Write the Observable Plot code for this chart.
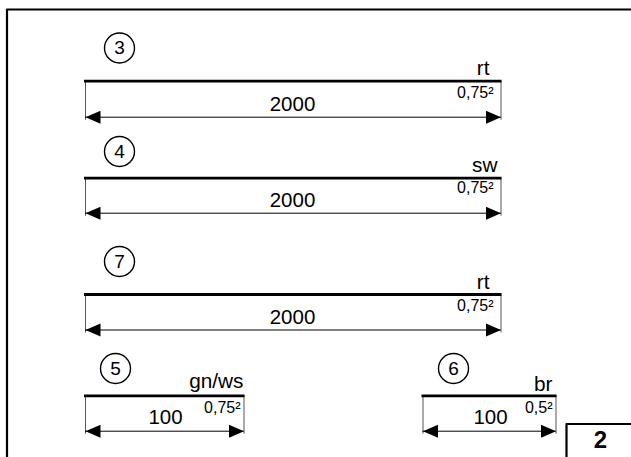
<!DOCTYPE html>
<html><head><meta charset="utf-8">
<script src="https://cdn.jsdelivr.net/npm/d3@7"></script>
<script src="https://cdn.jsdelivr.net/npm/@observablehq/plot@0.6"></script>
<style>html,body{margin:0;padding:0;background:#fff}svg{display:block}</style>
</head><body><div id="c"></div>
<script>
// Wire labels in the drawing
const circleNumbers = ["3","4","7","5","6"];
const lengths = ["2000","2000","2000","100","100"];
const colours = ["rt","sw","rt","gn/ws","br"];
const sections = ["0,75²","0,75²","0,75²","0,75²","0,5²"];
// Layout in drawing units
const x1s = [85,85,85,85,422.5];
const x2s = [500.5,500.5,500.5,243.5,555.5];
const wireY = [80.7,177.7,294,395.3,395.3];
const dimY = [116.7,212.7,329.5,430.7,430.7];
const circleX = [119,119,119,115,453];
const circleY = [47.5,151,261,368,368];
const lengthX = [292,292,292,165,490];
const lengthY = [103.5,200,317,417,417];
const colourX = [489,497,489,243,552];
const colourY = [68,165,282,381,384];
const sectionX = [493,493,493,240,552];
const sectionY = [92,187.5,305,407.7,407.7];
const rows = circleNumbers.map((n,i)=>({n,len:lengths[i],col:colours[i],sec:sections[i],x1:x1s[i],x2:x2s[i],wy:wireY[i],dy:dimY[i],cx:circleX[i],cy:circleY[i],lx:lengthX[i],ly:lengthY[i],colx:colourX[i],coly:colourY[i],secx:sectionX[i],secy:sectionY[i]}));
const frameX = [6.5,6.5,631];
const frameY = [457,9,9];
const boxX = [566,566,631];
const boxY = [457,423.5,423.5];
const pageNumber = ["2"];
const font = "Liberation Sans, Arial, sans-serif";
const head = dir => ({draw(ctx){ctx.moveTo(0,0);ctx.lineTo(dir*15,-6.5);ctx.lineTo(dir*15,6.5);ctx.closePath();}});
const plot = Plot.plot({
  width:631,height:457,margin:0,
  x:{domain:[0,631],range:[0,631],axis:null},
  y:{domain:[0,457],range:[0,457],axis:null},
  marks:[
    Plot.line(frameX.map((x,i)=>({x,y:frameY[i]})),{x:"x",y:"y",stroke:"#000",strokeWidth:2.2}),
    Plot.ruleX(rows,{x:"x1",y1:"wy",y2:d=>d.dy+3,stroke:"#555",strokeWidth:1}),
    Plot.ruleX(rows,{x:"x2",y1:"wy",y2:d=>d.dy+3,stroke:"#555",strokeWidth:1}),
    Plot.ruleY(rows,{y:"wy",x1:d=>d.x1-1,x2:d=>d.x2+1,stroke:"#000",strokeWidth:2.8}),
    Plot.ruleY(rows,{y:"dy",x1:"x1",x2:"x2",stroke:"#000",strokeWidth:1}),
    Plot.dot(rows,{x:"x1",y:"dy",symbol:head(1),r:5,fill:"#000",stroke:"none"}),
    Plot.dot(rows,{x:"x2",y:"dy",symbol:head(-1),r:5,fill:"#000",stroke:"none"}),
    Plot.dot(rows,{x:"cx",y:"cy",r:15,stroke:"#000",strokeWidth:1.4,fill:"#fff"}),
    Plot.text(rows,{x:"cx",y:"cy",text:"n",fontFamily:font,fontSize:19,fill:"#000"}),
    Plot.text(rows,{x:"lx",y:"ly",text:"len",fontFamily:font,fontSize:20.5,fill:"#000"}),
    Plot.text(rows,{x:"colx",y:"coly",text:"col",textAnchor:"end",fontFamily:font,fontSize:20.8,fill:"#000"}),
    Plot.text(rows,{x:"secx",y:"secy",text:"sec",textAnchor:"end",fontFamily:font,fontSize:16,fill:"#000"}),
    Plot.line(boxX.map((x,i)=>({x,y:boxY[i]})),{x:"x",y:"y",stroke:"#000",strokeWidth:2.2}),
    Plot.text(pageNumber,{x:()=>600,y:()=>440,text:d=>d,fontFamily:font,fontSize:24,fontWeight:"bold",fill:"#000"})
  ]
});
document.getElementById("c").append(plot);
</script></body></html>
